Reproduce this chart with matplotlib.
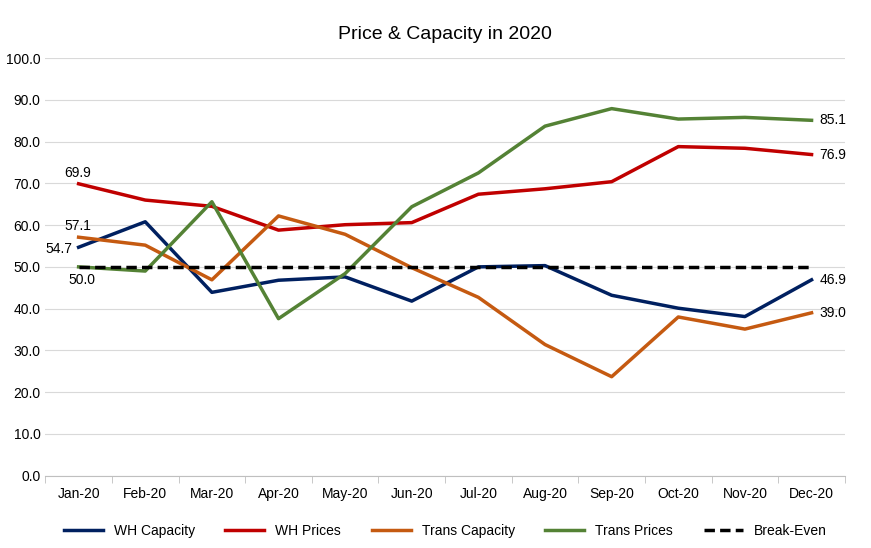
import matplotlib.pyplot as plt
import numpy as np

months = ["Jan-20", "Feb-20", "Mar-20", "Apr-20", "May-20", "Jun-20",
          "Jul-20", "Aug-20", "Sep-20", "Oct-20", "Nov-20", "Dec-20"]
wh_capacity = [54.7, 60.8, 43.9, 46.8, 47.6, 41.8, 50.0, 50.3, 43.2, 40.1, 38.1, 46.9]
wh_prices = [69.9, 66.0, 64.5, 58.8, 60.1, 60.6, 67.4, 68.7, 70.4, 78.8, 78.4, 76.9]
trans_capacity = [57.1, 55.2, 46.9, 62.2, 57.8, 49.8, 42.7, 31.4, 23.7, 38.0, 35.1, 39.0]
trans_prices = [50.0, 49.0, 65.6, 37.6, 48.4, 64.4, 72.5, 83.7, 87.9, 85.4, 85.8, 85.1]
break_even = [50.0] * 12

plt.rcParams['font.family'] = ['Liberation Sans', 'DejaVu Sans']
fig = plt.figure(figsize=(8.71, 5.48), dpi=100)
ax = fig.add_axes([0.052, 0.132, 0.918, 0.762])
x = np.arange(len(months))

ax.plot(x, wh_capacity, color="#002060", lw=2.5, label="WH Capacity")
ax.plot(x, wh_prices, color="#C00000", lw=2.5, label="WH Prices")
ax.plot(x, trans_capacity, color="#C55A11", lw=2.5, label="Trans Capacity")
ax.plot(x, trans_prices, color="#548235", lw=2.5, label="Trans Prices")
ax.plot(x, break_even, color="black", lw=2.5, ls=(0, (3, 1.5)), label="Break-Even")

fs = 10
ax.text(-0.22, wh_prices[0] + 1, f"{wh_prices[0]:.1f}", ha="left", va="bottom", fontsize=fs)
ax.text(-0.22, trans_capacity[0] + 1, f"{trans_capacity[0]:.1f}", ha="left", va="bottom", fontsize=fs)
ax.text(-0.5, wh_capacity[0] - 2, f"{wh_capacity[0]:.1f}", ha="left", va="bottom", fontsize=fs)
ax.text(-0.15, trans_prices[0] - 1.5, f"{trans_prices[0]:.1f}", ha="left", va="top", fontsize=fs)
for s in [trans_prices, wh_prices, wh_capacity, trans_capacity]:
    ax.text(11.12, s[-1], f"{s[-1]:.1f}", ha="left", va="center", fontsize=fs)

ax.set_xlim(-0.5, 11.5)
ax.set_ylim(0, 100)
ax.set_yticks(np.arange(0, 101, 10))
ax.set_yticklabels([f"{v:.1f}" for v in np.arange(0, 101, 10)], fontsize=fs)
ax.set_xticks(x)
ax.set_xticklabels(months, fontsize=fs)
ax.set_xticks(np.arange(-0.5, 12, 1), minor=True)
ax.tick_params(axis="x", which="major", length=0, pad=8)
ax.tick_params(axis="x", which="minor", length=5, color="#BFBFBF")
ax.tick_params(axis="y", length=0)
ax.grid(axis="y", color="#D9D9D9", lw=0.8)
ax.set_axisbelow(True)
for sp in ["top", "right", "left"]:
    ax.spines[sp].set_visible(False)
ax.spines["bottom"].set_color("#BFBFBF")

ax.set_title("Price & Capacity in 2020", fontsize=14, pad=14)
ax.legend(loc="upper center", bbox_to_anchor=(0.5, -0.085), ncol=5, frameon=False,
          fontsize=fs, handlelength=2.8, columnspacing=2.2)

fig.savefig("out.png", dpi=100)
